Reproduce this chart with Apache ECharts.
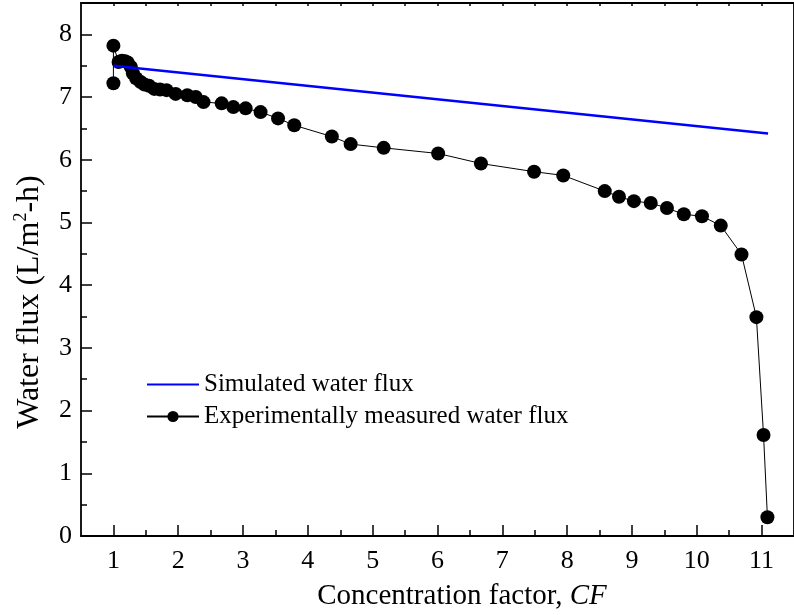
<!DOCTYPE html>
<html>
<head>
<meta charset="utf-8">
<script src="https://cdn.jsdelivr.net/npm/echarts@6/dist/echarts.min.js"></script>
<style>html,body{margin:0;padding:0;background:#fff}#c{width:794px;height:615px}</style>
</head>
<body>
<div id="c"></div>
<script>
// Experimentally measured water flux
var cfExp = [1.0, 1.0, 1.08, 1.13, 1.18, 1.22, 1.27, 1.3, 1.35, 1.42, 1.48, 1.55, 1.63, 1.72, 1.82, 1.96, 2.14, 2.27, 2.39, 2.67, 2.85, 3.04, 3.27, 3.54, 3.79, 4.37, 4.66, 5.17, 6.01, 6.67, 7.49, 7.94, 8.58, 8.8, 9.03, 9.29, 9.54, 9.8, 10.08, 10.37, 10.69, 10.92, 11.03, 11.09];
var fluxExp = [7.22, 7.82, 7.56, 7.58, 7.57, 7.55, 7.48, 7.38, 7.3, 7.24, 7.2, 7.18, 7.13, 7.12, 7.11, 7.05, 7.03, 7.0, 6.92, 6.9, 6.84, 6.82, 6.76, 6.66, 6.55, 6.37, 6.25, 6.19, 6.1, 5.94, 5.81, 5.75, 5.5, 5.41, 5.34, 5.31, 5.23, 5.13, 5.1, 4.95, 4.49, 3.49, 1.61, 0.3];
// Simulated water flux
var cfSim = [1.0, 11.1];
var fluxSim = [7.5, 6.42];
// Axis ticks
var xMajorTicks = [1, 2, 3, 4, 5, 6, 7, 8, 9, 10, 11];
var xMinorTicks = [1.5, 2.5, 3.5, 4.5, 5.5, 6.5, 7.5, 8.5, 9.5, 10.5];
var yTicks = [0, 1, 2, 3, 4, 5, 6, 7, 8];

var FONT = 'Liberation Serif';
var expData = cfExp.map(function (x, i) { return [x, fluxExp[i]]; });
var simData = cfSim.map(function (x, i) { return [x, fluxSim[i]]; });

var chart = echarts.init(document.getElementById('c'));
var lineStyleAxis = { color: '#000', width: 1.8 };
chart.setOption({
  animation: false,
  backgroundColor: '#fff',
  grid: { left: 81, right: -9, top: 3, bottom: 79 },
  legend: {
    left: 141, top: 367, orient: 'vertical',
    itemWidth: 52, itemHeight: 14, itemGap: 7,
    data: [
      { name: 'Simulated water flux', itemStyle: { opacity: 0 } },
      { name: 'Experimentally measured water flux' }
    ],
    textStyle: { fontFamily: FONT, fontSize: 25, color: '#000', lineHeight: 25 }
  },
  graphic: [
    {
      type: 'text', x: 462, y: 596,
      style: {
        text: 'Concentration factor, {i|CF}',
        fontFamily: FONT, fontSize: 29, fill: '#000',
        align: 'center', verticalAlign: 'middle',
        rich: { i: { fontFamily: FONT, fontSize: 29, fontStyle: 'italic', fill: '#000' } }
      }
    },
    {
      type: 'text', x: 30, y: 302, rotation: Math.PI / 2,
      style: {
        text: 'Water flux (L/m{sup|2}-h)',
        fontFamily: FONT, fontSize: 32, fill: '#000', lineHeight: 35,
        align: 'center', verticalAlign: 'middle',
        rich: { sup: { fontFamily: FONT, fontSize: 18, fill: '#000', verticalAlign: 'top', lineHeight: 18 } }
      }
    }
  ],
  xAxis: [
    {
      type: 'value', min: 0.5, max: 11.5, position: 'bottom',
      axisLine: { show: true, lineStyle: lineStyleAxis },
      axisTick: { show: true, inside: true, length: 11, customValues: xMajorTicks, lineStyle: { color: '#000', width: 1.5 } },
      axisLabel: { show: true, customValues: xMajorTicks, margin: 12, fontFamily: FONT, fontSize: 26, color: '#000' },
      splitLine: { show: false }
    },
    {
      type: 'value', min: 0.5, max: 11.5, position: 'bottom',
      axisLine: { show: false },
      axisTick: { show: true, inside: true, length: 6, customValues: xMinorTicks, lineStyle: { color: '#000', width: 1.5 } },
      axisLabel: { show: false }, splitLine: { show: false }
    },
    {
      type: 'value', min: 0.5, max: 11.5, position: 'top',
      axisLine: { show: true, lineStyle: lineStyleAxis },
      axisTick: { show: true, inside: true, length: 3, customValues: xMajorTicks.concat(xMinorTicks), lineStyle: { color: '#000', width: 1.5 } },
      axisLabel: { show: false }, splitLine: { show: false }
    }
  ],
  yAxis: [
    {
      type: 'value', min: 0, max: 8.5, interval: 1, position: 'left',
      axisLine: { show: true, lineStyle: lineStyleAxis },
      axisTick: { show: true, inside: true, length: 11, customValues: yTicks, lineStyle: { color: '#000', width: 1.5 } },
      minorTick: { show: true, splitNumber: 2, length: 6, lineStyle: { color: '#000', width: 1.5 } },
      axisLabel: { show: true, customValues: yTicks, margin: 9, fontFamily: FONT, fontSize: 26, color: '#000' },
      splitLine: { show: false }, minorSplitLine: { show: false }
    },
    {
      type: 'value', min: 0, max: 8.5, interval: 1, position: 'right',
      axisLine: { show: true, lineStyle: lineStyleAxis },
      axisTick: { show: false }, axisLabel: { show: false }, splitLine: { show: false }
    }
  ],
  series: [
    {
      name: 'Experimentally measured water flux', type: 'line', data: expData,
      symbol: 'circle', symbolSize: 14, showAllSymbol: true,
      lineStyle: { color: '#000', width: 1 },
      itemStyle: { color: '#000' }, z: 2
    },
    {
      name: 'Simulated water flux', type: 'line', data: simData,
      symbol: 'none', lineStyle: { color: '#0000ff', width: 2.5 },
      itemStyle: { color: '#0000ff' }, z: 3
    }
  ]
});
</script>
</body>
</html>
